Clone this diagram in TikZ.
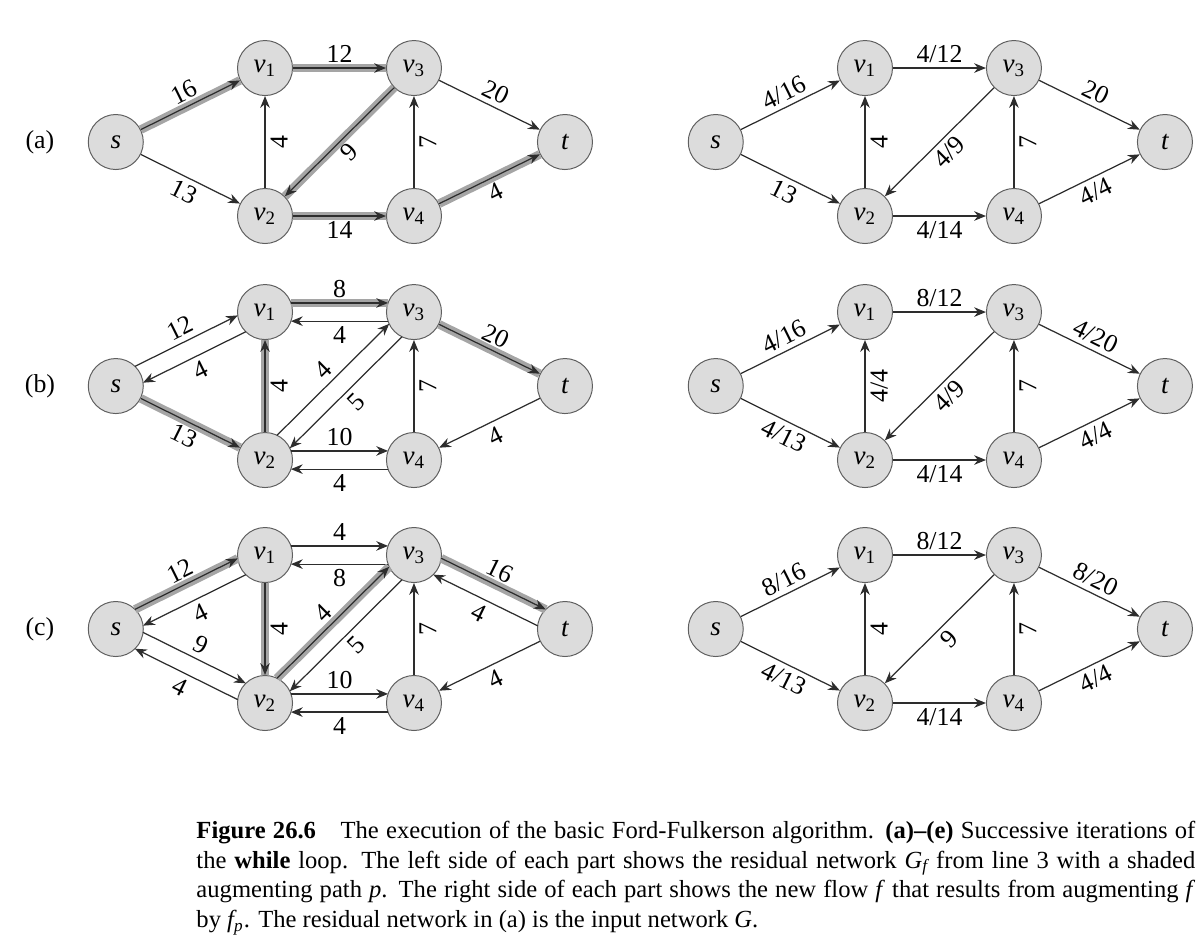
\documentclass[tikz,border=0pt]{standalone}
\usepackage{fontspec}
\setmainfont{Liberation Serif}
\usetikzlibrary{arrows.meta,calc}

\definecolor{nodefill}{RGB}{220,220,220}
\definecolor{nodeline}{RGB}{95,95,95}
\definecolor{bandgray}{RGB}{165,165,165}
\definecolor{edgeline}{RGB}{45,45,45}

\tikzset{
  vert/.style={circle,draw=nodeline,fill=nodefill,minimum size=7.86mm,inner sep=0pt,
    font=\fontsize{11}{13}\selectfont\itshape},
  arc/.style={draw=edgeline,line width=0.5pt,-{Stealth[length=4.8pt,width=3.9pt]}},
  aug/.style={preaction={draw=bandgray,line width=3.5pt,-}},
  lane/.style={shorten <=3.7mm,shorten >=3.7mm},
  lab/.style={font=\fontsize{10.5}{12}\selectfont,inner sep=2pt},
  vlab/.style={lab,rotate=90,anchor=north}
}

\begin{document}
\begin{tikzpicture}
\useasboundingbox (0,0) rectangle (17.2,-13.514);

% the six networks share one layout
\foreach \p/\x/\y in {aL/0/0,aR/8.571/0,bL/0/-3.486,bR/8.571/-3.486,cL/0/-6.957,cR/8.571/-6.957}{
  \begin{scope}[shift={(\x,\y)}]
    \node[vert] (\p s) at (1.654,-2.029) {s};
    \node[vert] (\p v1) at (3.786,-0.972) {v\textsubscript{\upshape 1}};
    \node[vert] (\p v2) at (3.786,-3.086) {v\textsubscript{\upshape 2}};
    \node[vert] (\p v3) at (5.914,-0.972) {v\textsubscript{\upshape 3}};
    \node[vert] (\p v4) at (5.914,-3.086) {v\textsubscript{\upshape 4}};
    \node[vert] (\p t) at (8.071,-2.029) {t};
  \end{scope}
}

\node[lab] (pa) at (0.571,-2.029) {(a)};
\node[lab] (pb) at (0.571,-5.515) {(b)};
\node[lab] (pc) at (0.571,-8.986) {(c)};

% (a) residual network
\draw[arc,aug] (aLs) -- node[lab,above,sloped] {16} (aLv1);
\draw[arc] (aLs) -- node[lab,below,sloped] {13} (aLv2);
\draw[arc,aug] (aLv1) -- node[lab,above] {12} (aLv3);
\draw[arc] (aLv2) -- node[vlab] {4} (aLv1);
\draw[arc,aug] (aLv3) -- node[lab,below,sloped] {9} (aLv2);
\draw[arc,aug] (aLv2) -- node[lab,below] {14} (aLv4);
\draw[arc] (aLv4) -- node[vlab] {7} (aLv3);
\draw[arc] (aLv3) -- node[lab,above,sloped] {20} (aLt);
\draw[arc,aug] (aLv4) -- node[lab,below,sloped] {4} (aLt);

% (a) flow
\draw[arc] (aRs) -- node[lab,above,sloped] {4/16} (aRv1);
\draw[arc] (aRs) -- node[lab,below,sloped] {13} (aRv2);
\draw[arc] (aRv1) -- node[lab,above] {4/12} (aRv3);
\draw[arc] (aRv2) -- node[vlab] {4} (aRv1);
\draw[arc] (aRv3) -- node[lab,below,sloped] {4/9} (aRv2);
\draw[arc] (aRv2) -- node[lab,below] {4/14} (aRv4);
\draw[arc] (aRv4) -- node[vlab] {7} (aRv3);
\draw[arc] (aRv3) -- node[lab,above,sloped] {20} (aRt);
\draw[arc] (aRv4) -- node[lab,below,sloped] {4/4} (aRt);

% (b) residual network
\draw[arc,lane] ($(bLs)!1.3mm!90:(bLv1)$) -- node[lab,above,sloped] {12} ($(bLv1)!1.3mm!-90:(bLs)$);
\draw[arc,lane] ($(bLv1)!1.3mm!90:(bLs)$) -- node[lab,below,sloped] {4} ($(bLs)!1.3mm!-90:(bLv1)$);
\draw[arc,aug] (bLs) -- node[lab,below,sloped] {13} (bLv2);
\draw[arc,aug] (bLv2) -- node[vlab] {4} (bLv1);
\draw[arc,lane,aug] ($(bLv1)!1.3mm!90:(bLv3)$) -- node[lab,above] {8} ($(bLv3)!1.3mm!-90:(bLv1)$);
\draw[arc,lane] ($(bLv3)!1.3mm!90:(bLv1)$) -- node[lab,below] {4} ($(bLv1)!1.3mm!-90:(bLv3)$);
\draw[arc,lane] ($(bLv2)!1.3mm!90:(bLv3)$) -- node[lab,above,sloped] {4} ($(bLv3)!1.3mm!-90:(bLv2)$);
\draw[arc,lane] ($(bLv3)!1.3mm!90:(bLv2)$) -- node[lab,below,sloped] {5} ($(bLv2)!1.3mm!-90:(bLv3)$);
\draw[arc,lane] ($(bLv2)!1.3mm!90:(bLv4)$) -- node[lab,above] {10} ($(bLv4)!1.3mm!-90:(bLv2)$);
\draw[arc,lane] ($(bLv4)!1.3mm!90:(bLv2)$) -- node[lab,below] {4} ($(bLv2)!1.3mm!-90:(bLv4)$);
\draw[arc] (bLv4) -- node[vlab] {7} (bLv3);
\draw[arc,aug] (bLv3) -- node[lab,above,sloped] {20} (bLt);
\draw[arc] (bLt) -- node[lab,below,sloped] {4} (bLv4);

% (b) flow
\draw[arc] (bRs) -- node[lab,above,sloped] {4/16} (bRv1);
\draw[arc] (bRs) -- node[lab,below,sloped] {4/13} (bRv2);
\draw[arc] (bRv1) -- node[lab,above] {8/12} (bRv3);
\draw[arc] (bRv2) -- node[vlab] {4/4} (bRv1);
\draw[arc] (bRv3) -- node[lab,below,sloped] {4/9} (bRv2);
\draw[arc] (bRv2) -- node[lab,below] {4/14} (bRv4);
\draw[arc] (bRv4) -- node[vlab] {7} (bRv3);
\draw[arc] (bRv3) -- node[lab,above,sloped] {4/20} (bRt);
\draw[arc] (bRv4) -- node[lab,below,sloped] {4/4} (bRt);

% (c) residual network
\draw[arc,lane,aug] ($(cLs)!1.3mm!90:(cLv1)$) -- node[lab,above,sloped] {12} ($(cLv1)!1.3mm!-90:(cLs)$);
\draw[arc,lane] ($(cLv1)!1.3mm!90:(cLs)$) -- node[lab,below,sloped] {4} ($(cLs)!1.3mm!-90:(cLv1)$);
\draw[arc,lane] ($(cLs)!1.3mm!90:(cLv2)$) -- node[lab,above,sloped] {9} ($(cLv2)!1.3mm!-90:(cLs)$);
\draw[arc,lane] ($(cLv2)!1.3mm!90:(cLs)$) -- node[lab,below,sloped] {4} ($(cLs)!1.3mm!-90:(cLv2)$);
\draw[arc,aug] (cLv1) -- node[vlab] {4} (cLv2);
\draw[arc,lane] ($(cLv1)!1.3mm!90:(cLv3)$) -- node[lab,above] {4} ($(cLv3)!1.3mm!-90:(cLv1)$);
\draw[arc,lane] ($(cLv3)!1.3mm!90:(cLv1)$) -- node[lab,below] {8} ($(cLv1)!1.3mm!-90:(cLv3)$);
\draw[arc,lane,aug] ($(cLv2)!1.3mm!90:(cLv3)$) -- node[lab,above,sloped] {4} ($(cLv3)!1.3mm!-90:(cLv2)$);
\draw[arc,lane] ($(cLv3)!1.3mm!90:(cLv2)$) -- node[lab,below,sloped] {5} ($(cLv2)!1.3mm!-90:(cLv3)$);
\draw[arc,lane] ($(cLv2)!1.3mm!90:(cLv4)$) -- node[lab,above] {10} ($(cLv4)!1.3mm!-90:(cLv2)$);
\draw[arc,lane] ($(cLv4)!1.3mm!90:(cLv2)$) -- node[lab,below] {4} ($(cLv2)!1.3mm!-90:(cLv4)$);
\draw[arc] (cLv4) -- node[vlab] {7} (cLv3);
\draw[arc,lane,aug] ($(cLv3)!1.3mm!90:(cLt)$) -- node[lab,above,sloped] {16} ($(cLt)!1.3mm!-90:(cLv3)$);
\draw[arc,lane] ($(cLt)!1.3mm!90:(cLv3)$) -- node[lab,below,sloped] {4} ($(cLv3)!1.3mm!-90:(cLt)$);
\draw[arc] (cLt) -- node[lab,below,sloped] {4} (cLv4);

% (c) flow
\draw[arc] (cRs) -- node[lab,above,sloped] {8/16} (cRv1);
\draw[arc] (cRs) -- node[lab,below,sloped] {4/13} (cRv2);
\draw[arc] (cRv1) -- node[lab,above] {8/12} (cRv3);
\draw[arc] (cRv2) -- node[vlab] {4} (cRv1);
\draw[arc] (cRv3) -- node[lab,below,sloped] {9} (cRv2);
\draw[arc] (cRv2) -- node[lab,below] {4/14} (cRv4);
\draw[arc] (cRv4) -- node[vlab] {7} (cRv3);
\draw[arc] (cRv3) -- node[lab,above,sloped] {8/20} (cRt);
\draw[arc] (cRv4) -- node[lab,below,sloped] {4/4} (cRt);

% caption
\node[anchor=north west,inner sep=0pt,text width=14.27cm,align=justify,
  font=\fontsize{10}{12.15}\selectfont] (cap) at (2.8,-11.72)
  {\textbf{Figure 26.6}\quad The execution of the basic Ford-Fulkerson algorithm. \textbf{(a)--(e)} Successive iterations of\linebreak
   the \textbf{while} loop. The left side of each part shows the residual network \textit{G\textsubscript{f}} from line 3 with a shaded\linebreak
   augmenting path \textit{p}. The right side of each part shows the new flow \textit{f} that results from augmenting \textit{f}\linebreak
   by \textit{f\textsubscript{p}}. The residual network in (a) is the input network \textit{G}.};
\end{tikzpicture}
\end{document}
